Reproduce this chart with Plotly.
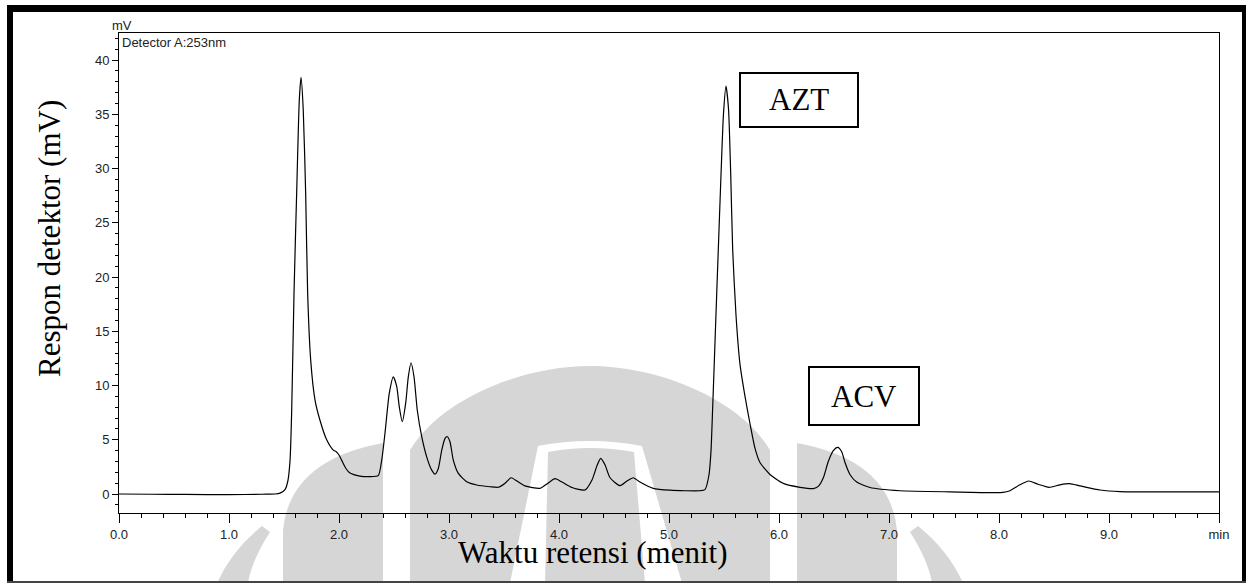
import plotly.graph_objects as go

# ---- data ----
time_min = [0.00, 0.30, 0.60, 1.00, 1.30, 1.42, 1.464, 1.509, 1.535, 1.555, 1.570, 1.591, 1.615, 1.639,
            1.655, 1.675, 1.697, 1.715, 1.743, 1.782, 1.827, 1.888, 1.948, 1.975, 2.000, 2.025, 2.06,
            2.10, 2.19, 2.28, 2.357, 2.388, 2.418, 2.457, 2.494, 2.525, 2.548, 2.575, 2.606, 2.630,
            2.655, 2.682, 2.712, 2.752, 2.797, 2.843, 2.873, 2.903, 2.934, 2.964, 2.985, 3.009, 3.039,
            3.085, 3.161, 3.252, 3.373, 3.448, 3.51, 3.564, 3.618, 3.69, 3.827, 3.90, 3.964, 4.027,
            4.118, 4.236, 4.30, 4.345, 4.379, 4.418, 4.464, 4.555, 4.618, 4.675, 4.736, 4.857, 5.009,
            5.282, 5.327, 5.364, 5.382, 5.394, 5.421, 5.448, 5.473, 5.495, 5.518, 5.541, 5.561, 5.579,
            5.609, 5.645, 5.691, 5.736, 5.782, 5.827, 5.918, 6.039, 6.191, 6.312, 6.357, 6.403, 6.448,
            6.494, 6.534, 6.570, 6.600, 6.645, 6.706, 6.827, 7.10, 7.555, 8.036, 8.10, 8.19, 8.27,
            8.355, 8.455, 8.555, 8.64, 8.736, 8.918, 9.10, 10.0]
response_mv = [0.00, -0.02, -0.04, -0.06, -0.02, 0.00, 0.08, 0.40, 1.2, 3.1, 7.7, 18.5, 27.7, 36.3,
               38.4, 35.4, 27.7, 18.5, 12.3, 8.66, 6.8, 5.0, 4.05, 3.9, 3.6, 3.1, 2.4,
               1.93, 1.65, 1.6, 1.7, 3.1, 5.6, 9.27, 10.8, 9.9, 8.04, 6.66, 8.35, 10.8,
               12.1, 10.8, 7.7, 5.28, 3.43, 2.2, 1.84, 2.36, 4.05, 5.13, 5.28, 4.82, 3.13,
               1.9, 1.13, 0.83, 0.67, 0.62, 1.0, 1.5, 1.2, 0.75, 0.52, 1.0, 1.41, 1.1,
               0.6, 0.37, 1.3, 2.6, 3.29, 2.7, 1.5, 0.77, 1.2, 1.5, 1.1, 0.52, 0.35,
               0.30, 0.4, 1.8, 4.0, 7.1, 14.8, 22.5, 29.5, 35.0, 37.6, 35.5, 29.5, 22.5,
               16.5, 12.0, 9.0, 6.5, 4.2, 2.9, 1.8, 0.98, 0.62, 0.5, 0.7, 1.5, 3.0,
               4.0, 4.3, 3.9, 2.9, 1.8, 1.1, 0.6, 0.3, 0.2, 0.15, 0.3, 0.85, 1.2,
               0.9, 0.62, 0.85, 0.95, 0.75, 0.37, 0.22, 0.2]

x_tick_vals = [0, 1, 2, 3, 4, 5, 6, 7, 8, 9, 10]
x_tick_text = ["0.0", "1.0", "2.0", "3.0", "4.0", "5.0", "6.0", "7.0", "8.0", "9.0", "min"]
y_tick_vals = [0, 5, 10, 15, 20, 25, 30, 35, 40]
peak_labels = ["AZT", "ACV"]

# ---- layout geometry (pixels) ----
W, H = 1246, 583
L, R, T, B = 119, 1219, 33, 513
PW, PH = R - L, B - T


def px(x):
    return (x - L) / PW


def py(y):
    return (B - y) / PH


def path(cmds):
    out = []
    for c in cmds:
        if isinstance(c, str):
            out.append(c)
        else:
            out.append(f"{px(c[0]):.5f},{py(c[1]):.5f}")
    return " ".join(out)


fig = go.Figure()
fig.add_trace(go.Scatter(x=time_min, y=response_mv, mode="lines",
                         line=dict(color="black", width=1.2, shape="spline", smoothing=0.6),
                         hoverinfo="skip", showlegend=False))

shapes = []
grey = "#d6d6d6"
# watermark (light grey logo behind the chart)
wm = [
    ["M", (217, 583), "Q", (232, 550), (262, 526), "L", (270, 532), "Q", (252, 560), (248, 583), "Z"],
    ["M", (963, 583), "Q", (948, 550), (918, 526), "L", (910, 532), "Q", (928, 560), (932, 583), "Z"],
    ["M", (283, 583), "L", (283, 530), "Q", (290, 460), (383, 443), "L", (383, 583), "Z"],
    ["M", (897, 583), "L", (897, 530), "Q", (890, 460), (797, 443), "L", (797, 583), "Z"],
    ["M", (410, 583), "L", (410, 450), "C", (440, 400), (520, 366), (590, 366),
     "C", (660, 366), (740, 400), (770, 450), "L", (770, 583), "Z"],
]
for p in wm:
    shapes.append(dict(type="path", xref="paper", yref="paper", path=path(p),
                       fillcolor=grey, line=dict(width=0), layer="below"))
white_arch = ["M", (510, 583), "L", (538, 446), "Q", (590, 436), (642, 446), "L", (682, 583),
              "L", (645, 583), "L", (634, 452), "Q", (590, 444), (548, 452), "L", (545, 583), "Z"]
shapes.append(dict(type="path", xref="paper", yref="paper", path=path(white_arch),
                   fillcolor="white", line=dict(width=0), layer="below"))

# label boxes
boxes = [(740, 73, 858, 127), (809, 367, 919, 425)]
for (x0, y0, x1, y1) in boxes:
    shapes.append(dict(type="rect", xref="paper", yref="paper",
                       x0=px(x0), x1=px(x1), y0=py(y1), y1=py(y0),
                       line=dict(color="black", width=2), fillcolor="white", layer="above"))

# outer black frame of the figure
for (x0, y0, x1, y1, col) in [(7, 5, 1246, 12, "black"), (7, 5, 13, 583, "black"),
                               (1242, 5, 1246, 583, "black"), (7, 581, 1246, 583, "#444444")]:
    shapes.append(dict(type="rect", xref="paper", yref="paper",
                       x0=px(x0), x1=px(x1), y0=py(y1), y1=py(y0),
                       line=dict(width=0), fillcolor=col, layer="above"))

serif = "Liberation Serif, Times New Roman, serif"
sans = "Liberation Sans, Arial, sans-serif"
ann = []
centers = [(799, 100), (864, 396)]
for lab, (cx, cy) in zip(peak_labels, centers):
    ann.append(dict(text=lab, x=px(cx), y=py(cy), xref="paper", yref="paper",
                    showarrow=False, xanchor="center", yanchor="middle",
                    font=dict(family=serif, size=31, color="black")))
ann.append(dict(text="Respon detektor (mV)", x=px(49), y=py(239), xref="paper", yref="paper",
                showarrow=False, textangle=-90, xanchor="center", yanchor="middle",
                font=dict(family=serif, size=31, color="black")))
ann.append(dict(text="Waktu retensi (menit)", x=px(593), y=py(552), xref="paper", yref="paper",
                showarrow=False, xanchor="center", yanchor="middle",
                font=dict(family=serif, size=31, color="black")))
ann.append(dict(text="mV", x=px(122), y=py(25), xref="paper", yref="paper",
                showarrow=False, xanchor="center", yanchor="middle",
                font=dict(family=sans, size=13, color="#222222")))
ann.append(dict(text="Detector A:253nm", x=px(120), y=py(42), xref="paper", yref="paper",
                showarrow=False, xanchor="left", yanchor="middle",
                font=dict(family=sans, size=13, color="#222222")))

fig.update_layout(
    width=W, height=H,
    margin=dict(l=L, r=W - R, t=T, b=H - B),
    paper_bgcolor="white", plot_bgcolor="rgba(0,0,0,0)",
    shapes=shapes, annotations=ann, showlegend=False,
    xaxis=dict(range=[0, 10], tickmode="array", tickvals=x_tick_vals, ticktext=x_tick_text,
               ticks="outside", ticklen=9, tickwidth=1, tickcolor="black",
               showline=True, linecolor="black", linewidth=1, mirror=True,
               showgrid=False, zeroline=False,
               tickfont=dict(family=sans, size=13, color="#222222"),
               minor=dict(dtick=0.2, tick0=0, ticks="outside", ticklen=4, tickcolor="black",
                          showgrid=False)),
    yaxis=dict(range=[-1.75, 42.5], tickmode="array", tickvals=y_tick_vals,
               ticks="outside", ticklen=6, tickwidth=1, tickcolor="black",
               showline=True, linecolor="black", linewidth=1, mirror=True,
               showgrid=False, zeroline=False,
               tickfont=dict(family=sans, size=13, color="#222222"),
               minor=dict(dtick=1, tick0=0, ticks="outside", ticklen=3, tickcolor="black",
                          showgrid=False)),
)

fig.write_html("out.html")
